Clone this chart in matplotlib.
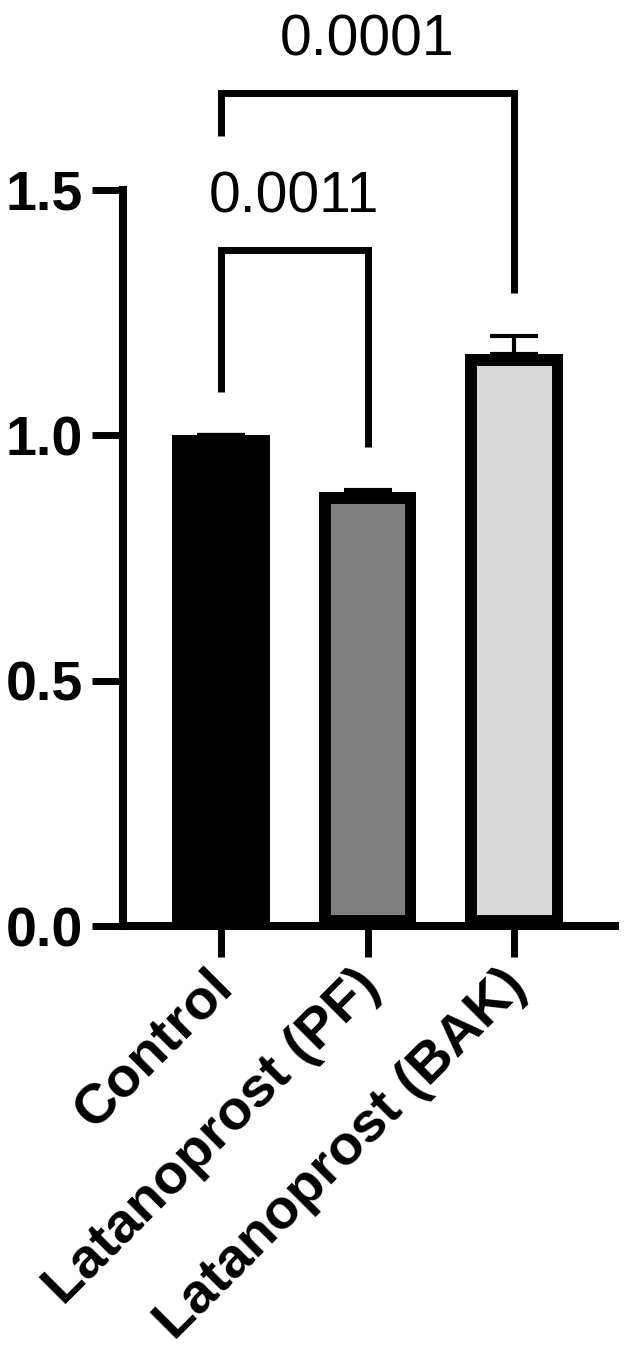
import numpy as np
import matplotlib
matplotlib.use("Agg")
import matplotlib.pyplot as plt
import matplotlib.transforms as mtransforms

plt.rcParams['font.family'] = ['Liberation Sans', 'DejaVu Sans']

groups = ['Control', 'Latanoprost (PF)', 'Latanoprost (BAK)']
means = [1.0, 0.884, 1.165]
sems = [0.0, 0.004, 0.037]
fills = ['#000000', '#808080', '#d9d9d9']

# significance brackets: (left bar, right bar, p value)
pairs = [(0, 1), (0, 2)]
p_labels = ['0.0011', '0.0001']
bracket_top = [1.377, 1.697]
leg_left = [1.088, 1.611]
leg_right = [0.976, 1.291]
label_y = [1.454, 1.774]

fig = plt.figure(figsize=(6.25, 13.55), dpi=100)
ax = fig.add_axes([0.1968, 0.3166, 0.7872, 0.5432])

x = np.arange(len(groups))
bars = ax.bar(x, means, width=0.667, color=fills, edgecolor='black',
              linewidth=16.5, zorder=2)
# keep the border inside the bar, like prism does
for b in bars:
    b.set_clip_path(b)

ax.errorbar(x, means, yerr=[np.zeros(len(sems)), sems], fmt='none',
            ecolor='black', elinewidth=3, capsize=17, capthick=3, zorder=3)

for (i, j), lab, top, yl, yr, ty in zip(pairs, p_labels, bracket_top,
                                        leg_left, leg_right, label_y):
    ax.plot([x[i], x[i], x[j], x[j]], [yl, top, top, yr], color='black',
            lw=5, clip_on=False, solid_joinstyle='miter', solid_capstyle='butt')
    ax.text((x[i] + x[j]) / 2, ty, lab, ha='center', va='baseline',
            fontsize=41, clip_on=False)

ax.set_xlim(-0.667, 2.687)
ax.set_ylim(0, 1.5)
ax.set_yticks([0, 0.5, 1.0, 1.5])
ax.set_yticklabels(['0.0', '0.5', '1.0', '1.5'], fontsize=40, fontweight='bold')
ax.set_xticks(x)
ax.set_xticklabels([])

# rotated group names, hung under the ticks
shift = mtransforms.ScaledTranslation(4 / 100, -52 / 100, fig.dpi_scale_trans)
for xi, name in zip(x, groups):
    ax.text(xi, 0, name, transform=ax.get_xaxis_transform() + shift,
            rotation=45, ha='right', va='center', rotation_mode='anchor',
            fontsize=40.5, fontweight='bold', clip_on=False)

for s in ['top', 'right']:
    ax.spines[s].set_visible(False)
for s in ['left', 'bottom']:
    ax.spines[s].set_linewidth(5.8)
    ax.spines[s].set_zorder(4)
ax.tick_params(axis='y', length=22, width=5, pad=7)
ax.tick_params(axis='x', length=22, width=5)

fig.savefig('out.png', dpi=100)
